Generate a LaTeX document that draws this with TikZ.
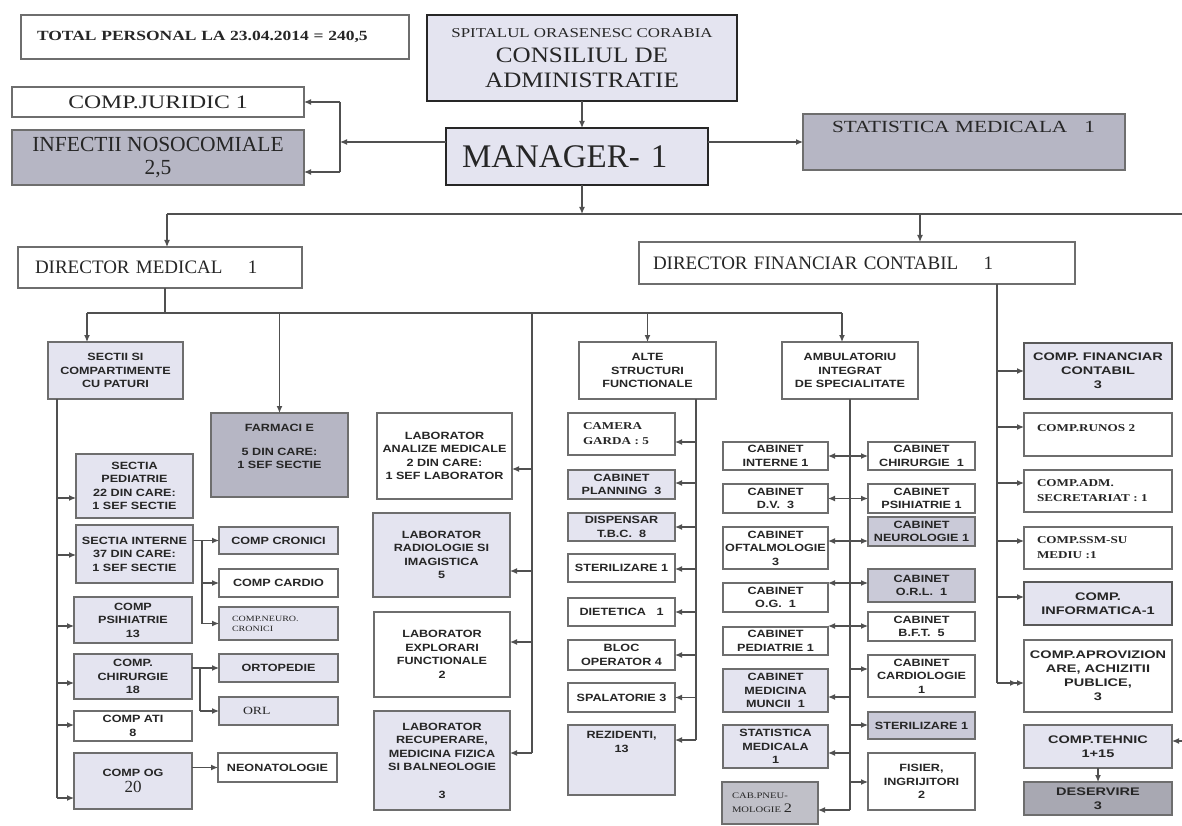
\documentclass[tikz,border=0pt]{standalone}
\usepackage{fontspec}
\setmainfont{Liberation Serif}
\newfontfamily\srw[FakeStretch=1.25]{Liberation Serif}
\newfontfamily\srm[FakeStretch=1.14]{Liberation Serif}
\newfontfamily\sfw[FakeStretch=1.2]{Liberation Sans}
\newfontfamily\sfx[FakeStretch=1.32]{Liberation Sans}
\usetikzlibrary{arrows.meta,calc}

\definecolor{lavL}{HTML}{E4E4F0}
\definecolor{lavM}{HTML}{CACAD8}
\definecolor{grayD}{HTML}{B6B6C4}
\definecolor{grayX}{HTML}{A8A8B2}
\definecolor{grayP}{HTML}{C0C0C8}
\definecolor{edgeC}{HTML}{6E6E6E}
\definecolor{wireC}{HTML}{505050}
\definecolor{ink}{HTML}{262626}

% box from its corners (x1,y1)-(x2,y2), y measured downwards
\newcommand\obox[7]{\node[box,#6,minimum width={(#4-#2)*1pt},minimum height={(#5-#3)*1pt}] (#1) at ({(#2+#4)/2},{(#3+#5)/2}) {#7};}
% arrow from a trunk line to a box side, shifted by dy from the side's middle
\newcommand\tapto[4]{\path ($(#2.#4)+(0,#3)$) coordinate (tp#2); \draw[arr] (tp#2 -| #1) -- (tp#2);}

\begin{document}
\begin{tikzpicture}[x=1pt,y=-1pt,
  box/.style={draw=edgeC, line width=1.3pt, fill=white, inner sep=0pt, outer sep=0pt, align=center, text=ink},
  heavy/.style={draw=black!85, line width=2.6pt},
  dark/.style={draw=black!65},
  fL/.style={fill=lavL}, fM/.style={fill=lavM}, fD/.style={fill=grayD}, fX/.style={fill=grayX}, fP/.style={fill=grayP},
  sb/.style={font=\sfw\bfseries\fontsize{10.5}{13.5}\selectfont},
  sx/.style={font=\sfx\bfseries\fontsize{11}{14}\selectfont},
  sr/.style={font=\srw\bfseries\fontsize{10.5}{15}\selectfont},
  lift/.style={text depth=#1},
  lefty/.style={align=left, text width=#1},
  wire/.style={draw=wireC, line width=1.2pt},
  tip/.tip={Latex[length=7pt,width=6pt]},
  arr/.style={wire, -tip},
  darr/.style={wire, tip-tip},
  arrtwo/.style={wire, -{tip[sep=0pt]tip}},
]
\useasboundingbox (0,0) rectangle (1182,826);
\fill[white] (0,0) rectangle (1182,826);

% ---------- top level ----------
\obox{tot}{21}{15}{409}{59}{font=\srw\bfseries\fontsize{14}{16}\selectfont, lefty=356pt}{\mbox{TOTAL PERSONAL LA 23.04.2014 = 240,5}}
\obox{jur}{12}{87}{304}{117}{font=\srw\fontsize{19}{21}\selectfont}{COMP.JURIDIC 1}
\obox{inf}{12}{130}{304}{185}{fD, font=\fontsize{21.5}{23}\selectfont}{INFECTII NOSOCOMIALE\\2,5}
\obox{cons}{427}{15}{737}{101}{heavy, fill=lavL, font=\srm\fontsize{22}{25}\selectfont}{{\srw\fontsize{13.5}{14}\selectfont SPITALUL ORASENESC CORABIA}\\CONSILIUL DE\\ADMINISTRATIE}
\obox{mgr}{446}{128}{708}{185}{heavy, fL, font=\fontsize{33}{36}\selectfont, lefty=230pt}{MANAGER- 1}
\obox{stat}{803}{114}{1125}{170}{fD, font=\srw\fontsize{17}{19}\selectfont, lefty=264pt, lift=30pt}{STATISTICA MEDICALA\quad 1}
\obox{dm}{18}{247}{302}{288}{font=\fontsize{19}{21}\selectfont, lefty=250pt}{DIRECTOR MEDICAL\quad\ 1}
\obox{df}{639}{242}{1075}{284}{font=\fontsize{19}{21}\selectfont, lefty=408pt}{DIRECTOR FINANCIAR CONTABIL\quad\ 1}

% ---------- beds ----------
\obox{sec}{48}{342}{183}{399}{fL, sb}{SECTII SI\\COMPARTIMENTE\\CU PATURI}
\obox{ped}{76}{454}{193}{518}{fL, sb}{SECTIA\\PEDIATRIE\\22 DIN CARE:\\1 SEF SECTIE}
\obox{int}{76}{525}{193}{583}{fL, sb}{SECTIA INTERNE\\37 DIN CARE:\\1 SEF SECTIE}
\obox{psi}{74}{597}{192}{643}{fL, sb}{COMP\\PSIHIATRIE\\13}
\obox{chi}{74}{654}{192}{699}{fL, sb}{COMP.\\CHIRURGIE\\18}
\obox{ati}{74}{711}{192}{741}{sb}{COMP ATI\\8}
\obox{og}{74}{753}{192}{809}{fL, sb}{COMP OG\\[3pt]{\rmfamily\mdseries\fontsize{17}{17}\selectfont 20}}
\obox{cro}{219}{527}{338}{554}{fL, sb}{COMP CRONICI}
\obox{car}{219}{569}{338}{597}{sb}{COMP CARDIO}
\obox{neu}{219}{607}{338}{640}{fL, font=\srw\fontsize{8}{10}\selectfont, lefty=93pt}{COMP.NEURO.\\CRONICI}
\obox{ort}{219}{654}{338}{682}{fL, sb}{ORTOPEDIE}
\obox{orl}{219}{697}{338}{725}{fL, font=\srw\fontsize{11}{12}\selectfont, lefty=71pt}{ORL}
\obox{neo}{218}{753}{337}{782}{sb}{NEONATOLOGIE}
\obox{far}{211}{413}{348}{497}{fD, sb, lift=17pt}{FARMACI E\\[10pt]5 DIN CARE:\\1 SEF SECTIE}

% ---------- laboratories ----------
\obox{lan}{377}{413}{512}{499}{sb}{LABORATOR\\ANALIZE MEDICALE\\2 DIN CARE:\\1 SEF LABORATOR}
\obox{lrad}{373}{513}{510}{597}{fL, sb}{LABORATOR\\RADIOLOGIE SI\\IMAGISTICA\\5}
\obox{lexp}{374}{612}{510}{697}{sb}{LABORATOR\\EXPLORARI\\FUNCTIONALE\\2}
\obox{lrec}{374}{711}{510}{810}{fL, sb}{LABORATOR\\RECUPERARE,\\MEDICINA FIZICA\\SI BALNEOLOGIE\\[14pt]3}

% ---------- other structures ----------
\obox{alt}{579}{342}{716}{399}{sb}{ALTE\\STRUCTURI\\FUNCTIONALE}
\obox{cam}{568}{413}{675}{455}{sr, lefty=77pt}{CAMERA\\GARDA : 5}
\obox{pla}{568}{470}{675}{499}{fL, sb}{CABINET\\PLANNING\ \ 3}
\obox{dis}{568}{513}{675}{541}{fL, sb}{DISPENSAR\\T.B.C.\ \ 8}
\obox{ste}{568}{554}{675}{582}{sb}{STERILIZARE\ 1}
\obox{die}{568}{598}{675}{626}{sb}{DIETETICA\quad 1}
\obox{blo}{568}{640}{675}{670}{sb}{BLOC\\OPERATOR\ 4}
\obox{spa}{568}{683}{675}{712}{sb}{SPALATORIE\ 3}
\obox{rez}{568}{725}{675}{795}{fL, sb, lift=36pt}{REZIDENTI,\\13}

% ---------- outpatient clinic ----------
\obox{amb}{782}{342}{918}{399}{sb}{AMBULATORIU\\INTEGRAT\\DE SPECIALITATE}
\obox{cin}{723}{442}{828}{470}{sb}{CABINET\\INTERNE 1}
\obox{cdv}{723}{484}{828}{513}{sb}{CABINET\\D.V.\ \ 3}
\obox{cof}{723}{527}{828}{569}{sb}{CABINET\\OFTALMOLOGIE\\3}
\obox{cog}{723}{583}{828}{612}{sb}{CABINET\\O.G.\ \ 1}
\obox{cpe}{723}{627}{828}{655}{sb}{CABINET\\PEDIATRIE\ 1}
\obox{cmm}{723}{669}{828}{712}{fL, sb}{CABINET\\MEDICINA\\MUNCII\ \ 1}
\obox{csm}{723}{725}{828}{768}{fL, sb}{STATISTICA\\MEDICALA\\1}
\obox{cpn}{722}{782}{818}{824}{fP, font=\srw\fontsize{8.5}{14}\selectfont, lefty=76pt}{CAB.PNEU-\\MOLOGIE {\fontsize{13}{14}\selectfont 2}}
\obox{cch}{868}{442}{975}{470}{sb}{CABINET\\CHIRURGIE\ \ 1}
\obox{cps}{868}{484}{975}{513}{sb}{CABINET\\PSIHIATRIE\ 1}
\obox{cne}{868}{517}{975}{546}{fM, sb}{CABINET\\NEUROLOGIE 1}
\obox{cor}{868}{569}{975}{602}{fM, sb}{CABINET\\O.R.L.\ \ 1}
\obox{cbf}{868}{612}{975}{641}{sb}{CABINET\\B.F.T.\ \ 5}
\obox{cca}{868}{655}{975}{697}{sb}{CABINET\\CARDIOLOGIE\\1}
\obox{cst}{868}{712}{975}{739}{fM, sb}{STERILIZARE 1}
\obox{cfi}{868}{753}{975}{810}{sb}{FISIER,\\INGRIJITORI\\2}

% ---------- financial side ----------
\obox{ffc}{1024}{343}{1172}{399}{fL, sx, dark}{COMP. FINANCIAR\\CONTABIL\\3}
\obox{fru}{1024}{413}{1172}{456}{sr, lefty=122pt, lift=13pt}{COMP.RUNOS 2}
\obox{fad}{1024}{470}{1172}{512}{sr, lefty=122pt}{COMP.ADM.\\SECRETARIAT : 1}
\obox{fss}{1024}{527}{1172}{569}{sr, lefty=122pt}{COMP.SSM-SU\\MEDIU :1}
\obox{finf}{1024}{582}{1172}{625}{fL, sx, dark}{COMP.\\INFORMATICA-1}
\obox{fap}{1024}{640}{1172}{712}{sx}{COMP.APROVIZION\\ARE, ACHIZITII\\PUBLICE,\\3}
\obox{fte}{1024}{725}{1172}{768}{fL, sx}{COMP.TEHNIC\\1+15}
\obox{fde}{1024}{782}{1172}{815}{fX, sx}{DESERVIRE\\3}

% ---------- connectors: top ----------
\draw[arr] (cons.south) -- (cons.south |- mgr.north);
\coordinate (jv) at (340,142);
\draw[arr] (mgr.west |- jv) -- (jv);
\coordinate (jb) at (340,172);
\draw[wire] (jv |- jur.east) -- (jb);
\draw[arr] (jv |- jur.east) -- (jur.east);
\draw[arr] (jb) -- (jb -| inf.east);
\draw[arr] (mgr.east |- stat.west) -- (stat.west);

\coordinate (hL) at (167,214);
\coordinate (hR) at (1182,214);
\coordinate (hF) at (920,214);
\draw[arr] (cons.south |- mgr.south) -- (cons.south |- hL);
\draw[wire] (hL) -- (hR);
\draw[arr] (hL) -- (hL |- dm.north);
\draw[arr] (hF) -- (hF |- df.north);

% ---------- connectors: medical director ----------
\coordinate (m1) at (165,313);
\coordinate (m0) at (87,313);
\coordinate (m4) at (842,313);
\coordinate (lb) at (532,313);
\draw[wire] (dm.south -| m1) -- (m1);
\draw[wire] (m0) -- (m4);
\draw[arr] (m0) -- (m0 |- sec.north);
\draw[arr] (far.north |- m0) -- (far.north);
\draw[arr] (alt.north |- m0) -- (alt.north);
\draw[arr] (m4) -- (m4 |- amb.north);

% beds trunk
\coordinate (sv) at (57,798);
\draw[wire] (sec.south -| sv) -- (sv);
\tapto{sv}{ped}{12}{west}
\tapto{sv}{int}{1}{west}
\tapto{sv}{psi}{6}{west}
\tapto{sv}{chi}{6.5}{west}
\tapto{sv}{ati}{-1}{west}
\tapto{sv}{og}{17}{west}

% internal medicine branches
\coordinate (iv) at (202,540);
\draw[arr] (int.east |- cro.west) -- (cro.west);
\draw[wire] (iv |- cro.west) -- (iv |- neu.west);
\draw[arr] (iv |- car.west) -- (car.west);
\draw[arr] (iv |- neu.west) -- (neu.west);
% surgery branches
\coordinate (cv) at (200,669);
\draw[arr] (chi.east |- ort.west) -- (ort.west);
\draw[wire] (cv |- ort.west) -- (cv |- orl.west);
\draw[arr] (cv |- orl.west) -- (orl.west);
% obstetrics
\draw[arr] (og.east |- neo.west) -- (neo.west);

% laboratories trunk
\coordinate (lbb) at (532,753);
\draw[wire] (lb) -- (lbb);
\tapto{lb}{lan}{13}{east}
\tapto{lb}{lrad}{16}{east}
\tapto{lb}{lexp}{-12.5}{east}
\tapto{lb}{lrec}{-7.5}{east}

% other structures trunk
\coordinate (av) at (696,740);
\draw[wire] (alt.south -| av) -- (av);
\tapto{av}{cam}{8}{east}
\tapto{av}{pla}{-1.5}{east}
\tapto{av}{dis}{0}{east}
\tapto{av}{ste}{1}{east}
\tapto{av}{die}{0}{east}
\tapto{av}{blo}{0}{east}
\tapto{av}{spa}{0}{east}
\tapto{av}{rez}{-20}{east}

% outpatient trunk
\coordinate (ab) at (850,810);
\draw[wire] (amb.south -| ab) -- (ab);
\draw[darr] (cin.east) -- (cch.west);
\draw[darr] (cdv.east) -- (cdv.east -| cps.west);
\coordinate (r3) at (850,541);
\coordinate (r4) at (850,583);
\coordinate (r5) at (850,626);
\draw[darr] (r3 -| cof.east) -- (r3 -| cne.west);
\draw[darr] (r4 -| cog.east) -- (r4 -| cor.west);
\draw[darr] (r5 -| cpe.east) -- (r5 -| cbf.west);
\tapto{ab}{cmm}{6.5}{east}
\tapto{ab}{csm}{6.5}{east}
\draw[arr] (ab) -- (ab -| cpn.east);
\tapto{ab}{cca}{-7}{west}
\tapto{ab}{cst}{-0.5}{west}
\tapto{ab}{cfi}{0.5}{west}

% ---------- connectors: financial director ----------
\coordinate (fv) at (997,683);
\draw[wire] (df.south -| fv) -- (fv);
\tapto{fv}{ffc}{0}{west}
\tapto{fv}{fru}{-7.5}{west}
\tapto{fv}{fad}{-8}{west}
\tapto{fv}{fss}{-7}{west}
\tapto{fv}{finf}{-6.5}{west}
\draw[arrtwo] (fv) -- (fv -| fap.west);
\coordinate (te) at (1182,741);
\draw[arr] (te) -- (te -| fte.east);
\draw[arr] (fte.south) -- (fde.north);
\end{tikzpicture}
\end{document}
